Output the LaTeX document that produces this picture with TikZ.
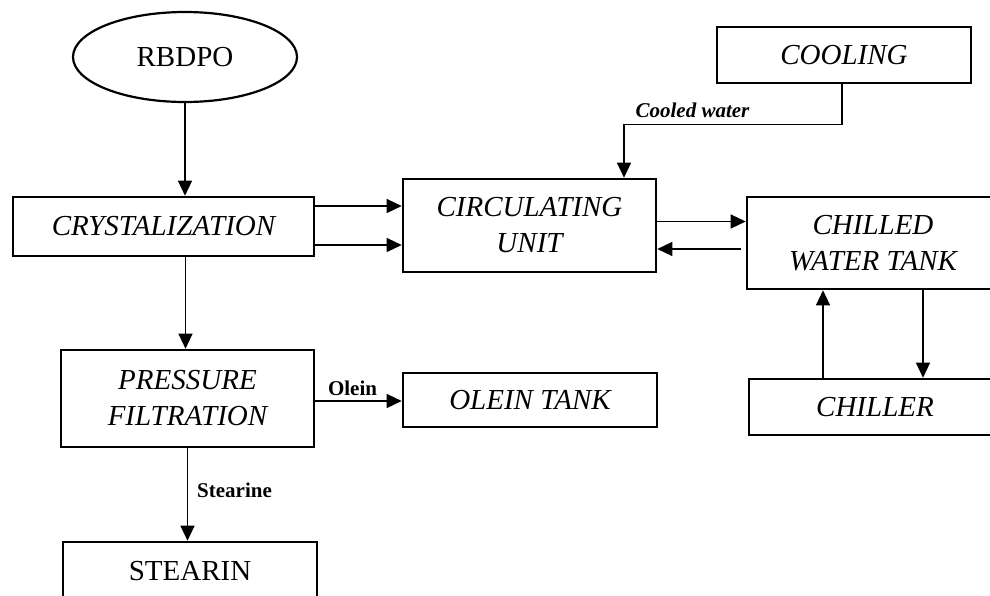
\documentclass[tikz,border=0pt]{standalone}
\usepackage{fontspec}
\setmainfont{Liberation Serif}
\usetikzlibrary{arrows.meta,shapes.geometric}

\begin{document}
\begin{tikzpicture}[x=1pt,y=-1pt,
  box/.style={draw, rectangle, line width=2.6pt, inner sep=0pt, align=center,
    font=\fontsize{29}{36}\selectfont\itshape},
  plainbox/.style={box, font=\fontsize{29}{36}\selectfont},
  arr/.style={line width=1.3pt, -{Triangle[length=15pt,width=14pt]}},
  lbl/.style={inner sep=0pt, anchor=base, font=\fontsize{21}{24}\selectfont\bfseries}]
\clip (0,0) rectangle (990,595);

% process blocks
\node[draw, ellipse, line width=2.2pt, inner sep=0pt, minimum width=224pt, minimum height=90pt,
  font=\fontsize{29}{36}\selectfont] (rbdpo) at (185,57) {RBDPO};
\node[box, minimum width=301pt, minimum height=59pt] (crys) at (163.5,226.5) {CRYSTALIZATION};
\node[box, minimum width=253pt, minimum height=93pt] (circ) at (529.5,225.5) {CIRCULATING\\UNIT};
\node[box, minimum width=254pt, minimum height=56pt] (cool) at (844,55) {COOLING};
\node[box, minimum width=252pt, minimum height=92pt] (chilled) at (873,243) {CHILLED\\WATER TANK};
\node[box, minimum width=252pt, minimum height=56pt] (chiller) at (875,407) {CHILLER};
\node[box, minimum width=253pt, minimum height=97pt] (press) at (187.5,398.5) {PRESSURE\\FILTRATION};
\node[box, minimum width=254pt, minimum height=54pt] (olein) at (530,400) {OLEIN TANK};
\node[plainbox, minimum width=254pt, minimum height=58pt] (stear) at (190,571) {STEARIN};

% feed and crystallisation
\draw[arr] (rbdpo.south) -- (rbdpo.south |- crys.north);
\path ([yshift=20.5pt]crys.east) coordinate (c1);
\draw[arr] (c1) -- (c1 -| circ.west);
\path ([yshift=-18.5pt]crys.east) coordinate (c2);
\draw[arr] (c2) -- (c2 -| circ.west);
\path ([xshift=22pt]crys.south) coordinate (c3);
\draw[arr] (c3) -- (c3 |- press.north);

% cooling water loop
\path ([xshift=-2pt]cool.south) coordinate (c4);
\draw[arr] (c4) -- ++(0,40) -| ([xshift=94.5pt]circ.north);
\node[lbl, font=\fontsize{21}{24}\selectfont\bfseries\itshape] (cwl) at (692.5,117) {Cooled water};
\path ([yshift=4pt]circ.east) coordinate (c5);
\draw[arr] (c5) -- (c5 -| chilled.west);
\path ([xshift=-5pt,yshift=-6pt]chilled.west) coordinate (c6);
\draw[arr] (c6) -- (c6 -| circ.east);
\path ([xshift=-52pt]chiller.north) coordinate (c7);
\draw[arr] (c7) -- (c7 |- chilled.south);
\path ([xshift=50pt]chilled.south) coordinate (c8);
\draw[arr] (c8) -- (c8 |- chiller.north);

% filtration products
\path ([yshift=-2.5pt]press.east) coordinate (c9);
\draw[arr] (c9) -- (c9 -| olein.west);
\node[lbl] (ol) at (352.5,395) {Olein};
\draw[arr] (press.south) -- (press.south |- stear.north);
\node[lbl, anchor=base west] (st) at (197,497) {Stearine};
\end{tikzpicture}
\end{document}
